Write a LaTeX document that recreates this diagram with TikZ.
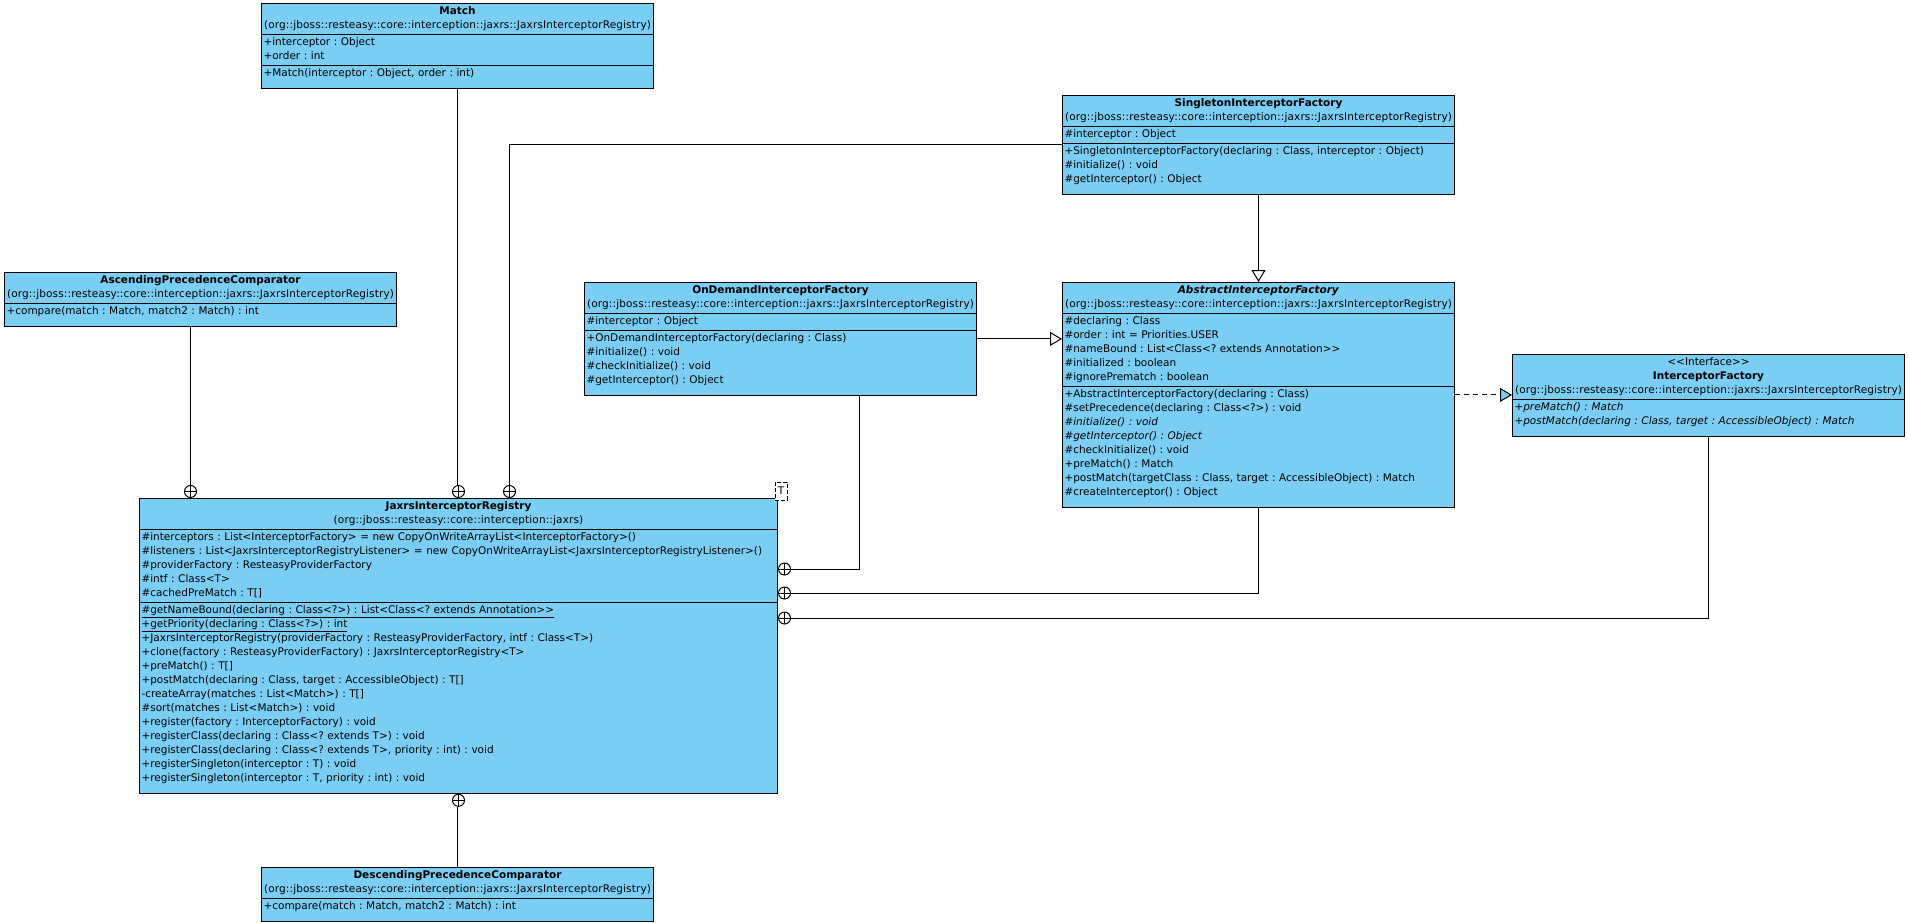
\documentclass[tikz,border=0pt]{standalone}
\usepackage{fontspec}
\setmainfont{DejaVu Sans}
\usetikzlibrary{arrows.meta,shapes.multipart}

\definecolor{classblue}{RGB}{122,206,244}
\newcommand{\lastrow}{\rule[-10pt]{0pt}{10pt}}
\newcommand{\ctr}[1]{\makebox[\hsize]{#1}}
\newcommand{\pkg}{{\addfontfeature{LetterSpace=1.3}(org::jboss::resteasy::core::interception::jaxrs::JaxrsInterceptorRegistry)}}

\tikzset{
  umlclass/.style={rectangle split, rectangle split parts=3, draw, fill=classblue,
    anchor=north west, inner xsep=2pt, inner ysep=1pt, text width=388pt,
    font=\fontsize{10.5}{14}\selectfont\frenchspacing},
  umlsmall/.style={umlclass, rectangle split parts=2},
  nest/.style={circle, draw, fill=white, minimum size=12pt, inner sep=0pt,
    path picture={\draw (path picture bounding box.north) -- (path picture bounding box.south)
      (path picture bounding box.west) -- (path picture bounding box.east);}},
  tparam/.style={draw, dash pattern=on 4pt off 2pt, fill=white, minimum width=12pt, minimum height=18pt,
    inner sep=0pt, font=\fontsize{10.5}{14}\selectfont},
  gen/.style={-{Triangle[open, length=12pt, width=14pt]}},
  realize/.style={dash pattern=on 5pt off 4pt, -{Triangle[length=12pt, width=14pt, fill=classblue]}}
}

\begin{document}
\begin{tikzpicture}[x=1pt, y=-1pt, line width=1pt]

\path[fill=white, use as bounding box] (0,0) rectangle (1908,922);

%--------------------
% Nested classes of the registry
%--------------------
\node[umlclass] (match) at (261,3) {\strut\ctr{\textbf{Match}}\\\ctr{\pkg}\strut
  \nodepart{two}\strut+interceptor : Object\\+order : int\strut
  \nodepart{three}\strut+Match(interceptor : Object, order : int)\lastrow};

\node[umlsmall] (asc) at (4,272) {\strut\ctr{\textbf{AscendingPrecedenceComparator}}\\\ctr{\pkg}\strut
  \nodepart{two}\strut+compare(match : Match, match2 : Match) : int\lastrow};

\node[umlsmall] (desc) at (261,867) {\strut\ctr{\textbf{DescendingPrecedenceComparator}}\\\ctr{\pkg}\strut
  \nodepart{two}\strut+compare(match : Match, match2 : Match) : int\lastrow};

\node[umlclass] (ondemand) at (584,282) {\strut\ctr{\textbf{OnDemandInterceptorFactory}}\\\ctr{\pkg}\strut
  \nodepart{two}\strut\#interceptor : Object\strut
  \nodepart{three}\strut+OnDemandInterceptorFactory(declaring : Class)\\
  \#initialize() : void\\
  \#checkInitialize() : void\\
  \#getInterceptor() : Object\lastrow};

\node[umlclass] (single) at (1062,95) {\strut\ctr{\textbf{SingletonInterceptorFactory}}\\\ctr{\pkg}\strut
  \nodepart{two}\strut\#interceptor : Object\strut
  \nodepart{three}\strut+SingletonInterceptorFactory(declaring : Class, interceptor : Object)\\
  \#initialize() : void\\
  \#getInterceptor() : Object\lastrow};

\node[umlclass] (abstract) at (1062,282) {\strut\ctr{\textbf{\textit{AbstractInterceptorFactory}}}\\\ctr{\pkg}\strut
  \nodepart{two}\strut\#declaring : Class\\
  \#order : int = Priorities.USER\\
  \#nameBound : List<Class<? extends Annotation>{}>\\
  \#initialized : boolean\\
  \#ignorePrematch : boolean\strut
  \nodepart{three}\strut+AbstractInterceptorFactory(declaring : Class)\\
  \#setPrecedence(declaring : Class<?>) : void\\
  \textit{\#initialize() : void}\\
  \textit{\#getInterceptor() : Object}\\
  \#checkInitialize() : void\\
  +preMatch() : Match\\
  +postMatch(targetClass : Class, target : AccessibleObject) : Match\\
  \#createInterceptor() : Object\lastrow};

\node[umlsmall] (iface) at (1512,354) {\strut\ctr{<{}<Interface>{}>}\\\ctr{\textbf{InterceptorFactory}}\\\ctr{\pkg}\strut
  \nodepart{two}\strut\textit{+preMatch() : Match}\\
  \textit{+postMatch(declaring : Class, target : AccessibleObject) : Match}\lastrow};

%--------------------
% Registry
%--------------------
\node[umlclass, text width=634pt] (jaxrs) at (139,498) {\strut\ctr{\textbf{JaxrsInterceptorRegistry}}\\
  \ctr{\addfontfeature{LetterSpace=1.3}(org::jboss::resteasy::core::interception::jaxrs)}\strut
  \nodepart{two}\strut\#interceptors : List<InterceptorFactory> = new CopyOnWriteArrayList<InterceptorFactory>()\\
  \#listeners : List<JaxrsInterceptorRegistryListener> = new CopyOnWriteArrayList<JaxrsInterceptorRegistryListener>()\\
  \#providerFactory : ResteasyProviderFactory\\
  \#intf : Class<T>\\
  \#cachedPreMatch : T[]\strut
  \nodepart{three}\strut\underline{\#getNameBound(declaring : Class<?>) : List<Class<? extends Annotation>{}>}\\
  \underline{+getPriority(declaring : Class<?>) : int}\\
  +JaxrsInterceptorRegistry(providerFactory : ResteasyProviderFactory, intf : Class<T>)\\
  +clone(factory : ResteasyProviderFactory) : JaxrsInterceptorRegistry<T>\\
  +preMatch() : T[]\\
  +postMatch(declaring : Class, target : AccessibleObject) : T[]\\
  -createArray(matches : List<Match>) : T[]\\
  \#sort(matches : List<Match>) : void\\
  +register(factory : InterceptorFactory) : void\\
  +registerClass(declaring : Class<? extends T>) : void\\
  +registerClass(declaring : Class<? extends T>, priority : int) : void\\
  +registerSingleton(interceptor : T) : void\\
  +registerSingleton(interceptor : T, priority : int) : void\lastrow};

% template parameter
\node[tparam] (tpar) at ([xshift=3pt, yshift=7pt]jaxrs.north east) {T};

%--------------------
% Nesting connectors
%--------------------
\node[nest, anchor=south] (nasc) at ([xshift=-268pt]jaxrs.north) {};
\node[nest, anchor=south] (nmatch) at (jaxrs.north) {};
\node[nest, anchor=south] (nsingle) at ([xshift=51pt]jaxrs.north) {};
\node[nest, anchor=west] (nondemand) at ([yshift=-71pt]jaxrs.north east) {};
\node[nest, anchor=west] (nabstract) at ([yshift=-95pt]jaxrs.north east) {};
\node[nest, anchor=west] (niface) at ([yshift=-120pt]jaxrs.north east) {};
\node[nest, anchor=north] (ndesc) at (jaxrs.south) {};

\draw ([xshift=-10pt]asc.south) -- (nasc.north);
\draw (match.south) -- (match.south |- nmatch.north);
\draw (single.west) -| (nsingle.north);
\draw ([xshift=79pt]ondemand.south) |- (nondemand.east);
\draw (abstract.south) |- (nabstract.east);
\draw (iface.south) |- (niface.east);
\draw (desc.north) -- (desc.north |- ndesc.south);

%--------------------
% Generalization / realization
%--------------------
\draw[gen] (single.south) -- (abstract.north);
\draw[gen] (ondemand.east) -- (abstract.west |- ondemand.east);
\draw[realize] (abstract.east) -- (abstract.east -| iface.west);

\end{tikzpicture}
\end{document}
